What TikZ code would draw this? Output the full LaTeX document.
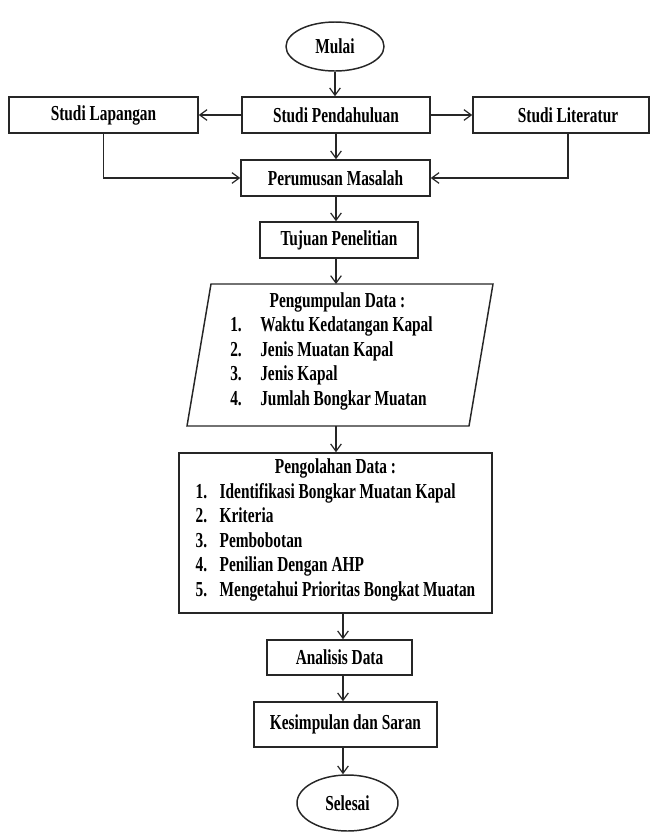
\documentclass[tikz,border=0pt]{standalone}
\usepackage{fontspec}
\setmainfont{Liberation Serif}[FakeStretch=0.72]
\usetikzlibrary{arrows.meta,shapes.geometric}
\tikzset{
  base/.style={font=\fontsize{16}{18.4}\selectfont\bfseries, line width=1.1pt, draw=black!85},
  boxnode/.style={base, rectangle, inner sep=0pt, minimum height=27pt},
  ovalnode/.style={base, ellipse, inner sep=0pt},
  txt/.style={font=\fontsize{16}{18.4}\selectfont\bfseries, inner sep=0pt},
  arr/.style={line width=0.9pt, draw=black!85, -{Straight Barb[length=5.5pt,width=8pt]}},
  ln/.style={line width=0.9pt, draw=black!85}
}
\begin{document}
\begin{tikzpicture}[x=0.75pt,y=-0.75pt]
\useasboundingbox (0,0) rectangle (651,833);
\coordinate (s1) at (336,0);
\coordinate (s2) at (343,0);

\node[ovalnode, minimum width=73.5pt, minimum height=36.75pt] (mulai) at (335,46.5) {Mulai};
\node[boxnode, minimum width=141.75pt] (lap) at (103.5,115) {Studi Lapangan};
\node[boxnode, minimum width=141pt] (pend) at (336,115) {Studi Pendahuluan};
\node[boxnode, minimum width=132pt] (lit) at (561,115) {\hspace*{10.5pt}Studi Literatur};
\node[boxnode, minimum width=141.75pt] (perum) at (335.5,178) {Perumusan Masalah};
\node[boxnode, minimum width=118.5pt] (tujuan) at (339,240) {Tujuan Penelitian};

% parallelogram
\draw[base] (211,284) -- (493,284) -- (469,426) -- (187,426) -- cycle;
\coordinate (pgt) at (340,284);
\coordinate (pgb) at (328,426);
\node[txt] (pg) at (331.5,351.5) {\begin{tabular}{@{}p{22.5pt}@{}l@{}}
\multicolumn{2}{c}{\hspace*{9pt}Pengumpulan Data :}\\
1. & Waktu Kedatangan Kapal\\
2. & Jenis Muatan Kapal\\
3. & Jenis Kapal\\
4. & Jumlah Bongkar Muatan
\end{tabular}};

\node[boxnode, minimum width=234.75pt, minimum height=120pt] (olah) at (335.5,533) {\begin{tabular}{@{}p{18pt}@{}l@{}}
\multicolumn{2}{c}{Pengolahan Data :}\\
1. & Identifikasi Bongkar Muatan Kapal\\
2. & Kriteria\\
3. & Pembobotan\\
4. & Penilian Dengan AHP\\
5. & Mengetahui Prioritas Bongkat Muatan\\[4.5pt]
\end{tabular}};

\node[boxnode, minimum width=108.75pt, minimum height=26.25pt] (anal) at (339.5,657.5) {Analisis Data};
\node[boxnode, minimum width=137.25pt, minimum height=33.75pt] (kes) at (345.5,724.5) {Kesimpulan dan Saran};
\node[ovalnode, minimum width=75.75pt, minimum height=42pt] (sel) at (347.5,803) {Selesai};

% connectors
\draw[arr] (mulai.south) -- (mulai.south |- pend.north);
\draw[arr] (pend.west) -- (lap.east);
\draw[arr] (pend.east) -- (lit.west);
\draw[arr] (pend.south -| s1) -- (perum.north -| s1);
\draw[arr] (lap.south) |- (perum.west);
\draw[arr] ([xshift=5.25pt]lit.south) |- (perum.east);
\draw[arr] (perum.south -| s1) -- (tujuan.north -| s1);
\draw[arr] (tujuan.south -| s1) -- (pgt -| s1);
\draw[arr] (pgb -| s1) -- (olah.north -| s1);
\draw[arr] (olah.south -| s2) -- (anal.north -| s2);
\draw[arr] (anal.south -| s2) -- (kes.north -| s2);
\draw[arr] (kes.south -| s2) -- (sel.north -| s2);
\end{tikzpicture}
\end{document}
